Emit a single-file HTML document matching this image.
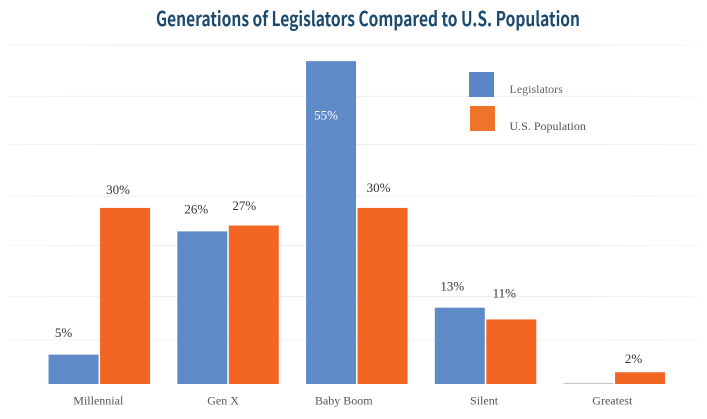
<!DOCTYPE html>
<html lang="en">
<head>
<meta charset="utf-8">
<title>Generations of Legislators Compared to U.S. Population</title>
<style>
  html, body { margin: 0; padding: 0; background: #fff; }
  body { width: 707px; height: 419px; overflow: hidden; }
  svg { display: block; }
  text { font-family: "Liberation Serif", serif; }
</style>
</head>
<body>
<svg id="chart" xmlns="http://www.w3.org/2000/svg" width="707" height="419" viewBox="0 0 707 419">
  <defs>
    <linearGradient id="grid-fade" x1="8" x2="700" y1="0" y2="0" gradientUnits="userSpaceOnUse">
      <stop offset="0" stop-color="#f5f6f9"/>
      <stop offset="0.15" stop-color="#eceef5"/>
      <stop offset="0.85" stop-color="#eceef5"/>
      <stop offset="1" stop-color="#f7f8fa"/>
    </linearGradient>
  </defs>
  <text x="156" y="26" textLength="424" lengthAdjust="spacingAndGlyphs" style="font-family:'Noto Sans CJK SC','Liberation Sans',sans-serif;font-size:20px;font-weight:700" fill="#1c4a6e">Generations of Legislators Compared to U.S. Population</text>
  <g id="grid"></g>
  <g id="bars"></g>
  <g id="labels"></g>
  <g id="cats"></g>
  <g>
    <g>
      <rect x="469" y="72" width="25" height="25" fill="#5b87c7"/>
      <text x="509.5" y="93" font-size="12" fill="#666">Legislators</text>
    </g>
    <g>
      <rect x="470" y="106" width="25" height="25" fill="#ed7428"/>
      <text x="509.5" y="130" font-size="12" fill="#555">U.S. Population</text>
    </g>
  </g>
</svg>
<script>
const categories = ['Millennial', 'Gen X', 'Baby Boom', 'Silent', 'Greatest'];
const legislators = [5, 26, 55, 13, 0.2];
const population = [30, 27, 30, 11, 2];
const gridValues = [7.5, 14.9, 23.6, 32, 40.8, 49, 57.75];

// Hand-placed label nudges, relative to each bar's top-centre (as in the original chart)
const legislatorNudgeX = [-10, -6, -5, -7.5, 0];
const legislatorNudgeY = [-17.6, -18, 58.5, -17, 0];
const populationNudgeX = [-7, -9.5, -4, -7, -6.5];
const populationNudgeY = [-14, -15.5, -16, -22, -9.5];
const categoryNudgeX = [-1, -5, -13, -1.5, -2];

const svgNS = 'http://www.w3.org/2000/svg';
const baseY = 384;
const pxPerUnit = 5.87;
const firstGroupX = 99.3;
const groupStep = 128.75;
const barW = 50;
const barGap = 1.5;

function yScale(v) { return baseY - v * pxPerUnit; }
function xGroup(i) { return firstGroupX + groupStep * i; }

function make(tag, attrs, parent, txt) {
  const el = document.createElementNS(svgNS, tag);
  for (const k in attrs) el.setAttribute(k, attrs[k]);
  if (txt !== undefined) el.textContent = txt;
  parent.appendChild(el);
  return el;
}

const gridG = document.getElementById('grid');
const barsG = document.getElementById('bars');
const labelsG = document.getElementById('labels');
const catsG = document.getElementById('cats');

gridValues.forEach(function (v) {
  const line = make('rect', { x: 8, y: yScale(v) - 0.5, width: 692, height: 1, fill: 'url(#grid-fade)' }, gridG);
  
  
});

categories.forEach(function (cat, i) {
  const cx = xGroup(i);
  const topL = yScale(legislators[i]);
  const topP = yScale(population[i]);
  const leftL = cx - barGap / 2 - barW;
  const leftP = cx + barGap / 2;

  const bl = make('rect', {
    x: leftL, y: topL, width: barW, height: baseY - topL,
    fill: legislators[i] < 1 ? '#c4c8d0' : '#5f8ac8'
  }, barsG);
  
  

  const bp = make('rect', {
    x: leftP, y: topP, width: barW, height: baseY - topP, fill: '#f26522'
  }, barsG);
  
  

  if (legislators[i] >= 1) {
    const inside = legislatorNudgeY[i] > 0;
    const tl = make('text', {
      x: leftL + barW / 2 + legislatorNudgeX[i],
      y: topL + legislatorNudgeY[i],
      'font-size': 13, 'text-anchor': 'middle',
      fill: inside ? '#ffffff' : '#333333'
    }, labelsG, legislators[i] + '%');
    
    
  }

  const tp = make('text', {
    x: leftP + barW / 2 + populationNudgeX[i],
    y: topP + populationNudgeY[i],
    'font-size': 13, 'text-anchor': 'middle', fill: '#333333'
  }, labelsG, population[i] + '%');
  
  

  const tc = make('text', {
    x: cx + categoryNudgeX[i], y: 404.5,
    'font-size': 12, 'text-anchor': 'middle', fill: '#555555'
  }, catsG, cat);
  
  
});
</script>
</body>
</html>
